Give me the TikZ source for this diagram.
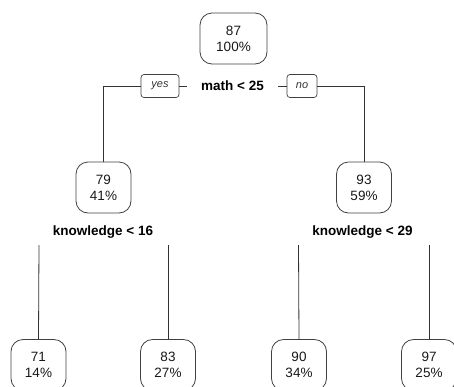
\documentclass[tikz,border=0pt]{standalone}
\usepackage{fontspec}
\setmainfont{Liberation Sans}
\begin{document}
\begin{tikzpicture}[x=1pt,y=-1pt,
  treebox/.style={draw=black!75, line width=0.8pt, rounded corners=12pt,
    minimum width=55pt, minimum height=51pt, align=center, inner sep=0pt,
    font=\fontsize{13.5}{16}\selectfont, text=black!90},
  splitlabel/.style={font=\fontsize{13.5}{16}\selectfont\bfseries, inner xsep=14pt, inner ysep=2pt},
  edgetag/.style={draw=black!75, line width=0.7pt, rounded corners=3pt,
    font=\fontsize{11}{13}\selectfont\itshape, text=black!80,
    minimum height=23pt, inner xsep=4pt, inner ysep=0pt},
  branch/.style={draw=black!80, line width=0.8pt}]
\useasboundingbox (0,0) rectangle (454,386);
\clip (0,0) rectangle (454,386);

% root and first split
\node[treebox, minimum width=67pt] (root) at (233.5,38.5) {87\\100\%};
\node[splitlabel] (s1) at (232.5,86) {math < 25};
\node[edgetag, minimum width=38pt] (yes) at (160,86) {yes};
\node[edgetag, minimum width=30pt] (no) at (302,86) {no};

% second level
\node[treebox] (n2) at (103.5,187.5) {79\\41\%};
\node[treebox] (n3) at (364,187.5) {93\\59\%};
\node[splitlabel] (s2) at (103,232) {knowledge < 16};
\node[splitlabel] (s3) at (362.5,232) {knowledge < 29};

% leaves
\node[treebox] (l1) at (38.5,365) {71\\14\%};
\node[treebox] (l2) at (168,365) {83\\27\%};
\node[treebox] (l3) at (299,365) {90\\34\%};
\node[treebox] (l4) at (429,365) {97\\25\%};

% first split branches
\draw[branch] (s1.west) -- (yes.east);
\draw[branch] (yes.west) -| (n2.north);
\draw[branch] (s1.east) -- (no.west);
\draw[branch] (no.east) -| (n3.north);

% second split branches
\coordinate (b1) at (39,245);
\coordinate (b2) at (168,245);
\coordinate (b3) at (298.5,245);
\coordinate (b4) at (429,245);
\draw[branch] (b1) -- (l1.north);
\draw[branch] (b2) -- (l2.north);
\draw[branch] (b3) -- (l3.north);
\draw[branch] (b4) -- (l4.north);
\end{tikzpicture}
\end{document}
